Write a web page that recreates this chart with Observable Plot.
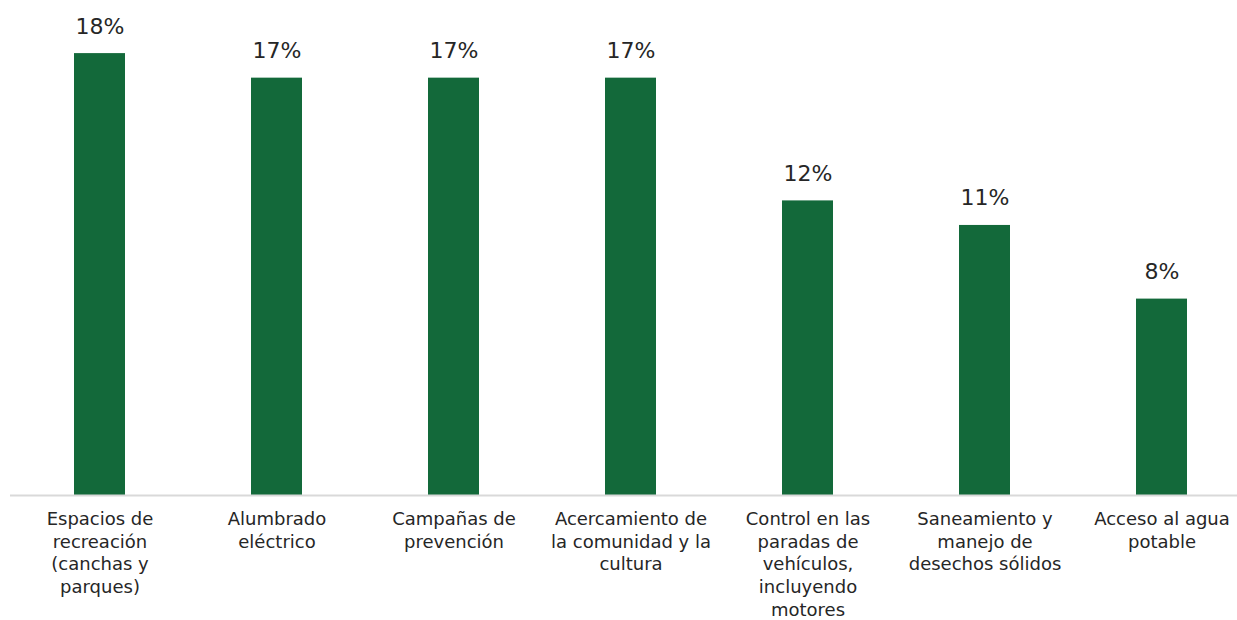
<!DOCTYPE html>
<html>
<head>
<meta charset="utf-8">
<script src="https://cdn.jsdelivr.net/npm/d3@7"></script>
<script src="https://cdn.jsdelivr.net/npm/@observablehq/plot@0.6"></script>
<style>
  html, body { margin: 0; padding: 0; background: #ffffff; }
  #chart svg { display: block; }
</style>
</head>
<body>
<div id="chart"></div>
<script>
const categories = [
  "Espacios de\nrecreación\n(canchas y\nparques)",
  "Alumbrado\neléctrico",
  "Campañas de\nprevención",
  "Acercamiento de\nla comunidad y la\ncultura",
  "Control en las\nparadas de\nvehículos,\nincluyendo\nmotores",
  "Saneamiento y\nmanejo de\ndesechos sólidos",
  "Acceso al agua\npotable"
];
const values = [18, 17, 17, 17, 12, 11, 8];
const valueLabels = ["18%", "17%", "17%", "17%", "12%", "11%", "8%"];

const data = categories.map((c, i) => ({category: c, value: values[i], label: valueLabels[i]}));

const font = "'DejaVu Sans', sans-serif";
const chart = Plot.plot({
  width: 1237,
  height: 620,
  marginTop: 0,
  marginLeft: 10,
  marginRight: 0,
  marginBottom: 125,
  style: {fontFamily: font, background: "#ffffff", color: "#262626"},
  x: {domain: categories, range: [9.25, 1251.75], paddingInner: 0.713, paddingOuter: 0.3565, align: 0.5},
  y: {domain: [0, 20], range: [495, 4], axis: null},
  marks: [
    Plot.barY(data, {x: "category", y: "value", fill: "#13693a"}),
    Plot.ruleY([0], {stroke: "#d9d9d9", strokeWidth: 2}),
    Plot.text(data, {x: "category", y: "value", text: "label", dy: -20, lineAnchor: "bottom", fontSize: 22, fill: "#262626"}),
    Plot.axisX({tickSize: 0, tickPadding: 13, fontSize: 18, lineHeight: 1.27, label: null, fill: "#262626"})
  ]
});
document.getElementById("chart").append(chart);
</script>
</body>
</html>
